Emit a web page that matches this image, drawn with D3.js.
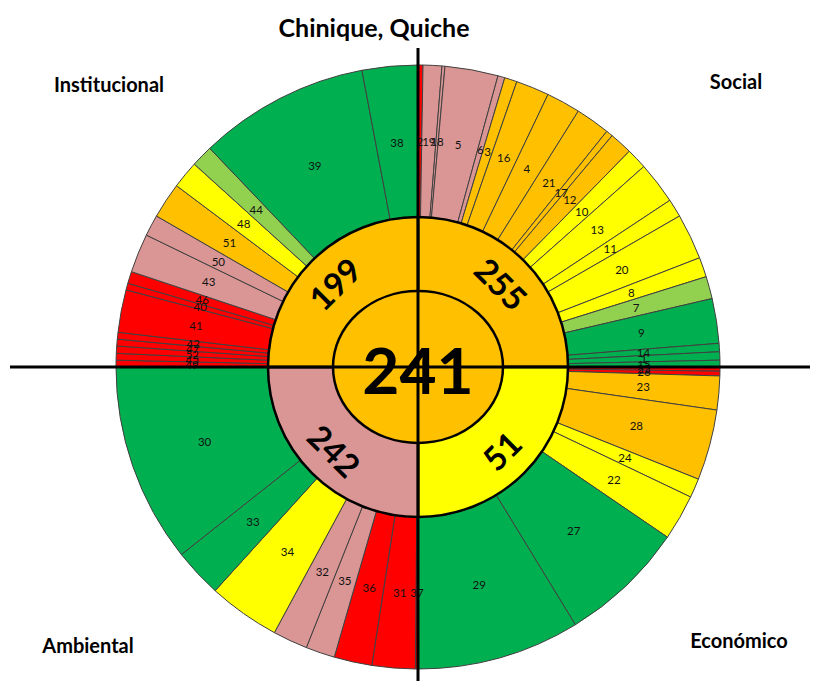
<!DOCTYPE html>
<html>
<head>
<meta charset="utf-8">
<script src="https://cdn.jsdelivr.net/npm/d3@7/dist/d3.min.js"></script>
<style>
  body { margin: 0; background: #fff; }
  text { font-family: Lato, "Open Sans", sans-serif; }
</style>
</head>
<body>
<div id="chart"></div>
<script>
// 1: DATA
const title = "Chinique, Quiche";
const centerValue = 241;

// dimensions, in drawing order (clockwise from 12 o'clock)
const dimNames = ["Social", "Económico", "Ambiental", "Institucional"];
const dimValues = [255, 51, 242, 199];
const dimColors = ["O", "Y", "P", "O"];

// outer ring: indicator ids, angular weight, colour class per dimension
const socialIds = [2, 19, 18, 5, 6, 3, 16, 4, 21, 17, 12, 10, 13, 11, 20, 8, 7, 9, 14, 1, 15];
const socialWeights = [0.95, 3.61, 0.57, 10.23, 1.34, 2.4, 6.4, 6.56, 6.64, 1.3, 4.4, 4.0, 8.1, 3.5, 8.8, 3.8, 4.3, 8.6, 1.6, 1.6, 1.3];
const socialColors = ["R", "P", "P", "P", "P", "O", "O", "O", "O", "O", "O", "Y", "Y", "Y", "Y", "Y", "LG", "G", "G", "G", "G"];

const economicoIds = [25, 26, 23, 28, 24, 22, 27, 29];
const economicoWeights = [0.8, 0.9, 6.5, 13.6, 3.7, 8.8, 24.3, 31.4];
const economicoColors = ["R", "R", "O", "O", "Y", "Y", "G", "G"];

const ambientalIds = [37, 31, 36, 35, 32, 34, 33, 30];
const ambientalWeights = [0.5, 8.3, 7.3, 5.6, 6.7, 13.8, 9.4, 38.4];
const ambientalColors = ["R", "R", "R", "P", "P", "Y", "G", "G"];

const institucionalIds = [49, 45, 52, 47, 42, 41, 40, 46, 43, 50, 51, 48, 44, 39, 38];
const institucionalWeights = [1.3, 1.3, 1.4, 1.3, 1.3, 8.2, 1.3, 2.3, 7.5, 4.1, 6.9, 5.3, 4.2, 32.9, 10.7];
const institucionalColors = ["R", "R", "R", "R", "R", "R", "R", "R", "P", "P", "O", "Y", "LG", "G", "G"];

const palette = { R: "#FF0000", P: "#DA9694", O: "#FFC000", Y: "#FFFF00", LG: "#92D050", G: "#00B050" };

// 2: SETUP
const W = 819, H = 681;
const cx = 418, cy = 367;
const rOuter = 302, rMid = 150, rxCenter = 85, ryCenter = 76;

const svg = d3.select("#chart").append("svg")
    .attr("width", W)
    .attr("height", H);

const g = svg.append("g").attr("transform", `translate(${cx},${cy})`);

const quarter = Math.PI / 2;
const outerSets = [
    { ids: socialIds, w: socialWeights, c: socialColors },
    { ids: economicoIds, w: economicoWeights, c: economicoColors },
    { ids: ambientalIds, w: ambientalWeights, c: ambientalColors },
    { ids: institucionalIds, w: institucionalWeights, c: institucionalColors }
];

const outerArc = d3.arc().innerRadius(rMid).outerRadius(rOuter);

// 3: OUTER RING
outerSets.forEach((set, qi) => {
    const rows = set.ids.map((id, i) => ({ id, w: set.w[i], c: set.c[i] }));
    const pie = d3.pie()
        .sort(null)
        .value(d => d.w)
        .startAngle(qi * quarter)
        .endAngle((qi + 1) * quarter);
    const arcs = pie(rows);

    g.append("g").selectAll("path")
        .data(arcs)
        .enter()
        .append("path")
        .attr("d", outerArc)
        .attr("fill", d => palette[d.data.c])
        .attr("stroke", "#404040")
        .attr("stroke-width", 1);

    g.append("g").selectAll("text")
        .data(arcs)
        .enter()
        .append("text")
        .attr("x", d => outerArc.centroid(d)[0])
        .attr("y", d => outerArc.centroid(d)[1])
        .attr("text-anchor", "middle")
        .attr("dominant-baseline", "central")
        .attr("font-size", 11.5)
        .attr("fill", "#111")
        .text(d => d.data.id);
});

// 4: MIDDLE RING (dimension totals)
const midArc = d3.arc().innerRadius(0).outerRadius(rMid);
g.append("g").selectAll("path")
    .data(dimValues)
    .enter()
    .append("path")
    .attr("d", (d, i) => midArc({ startAngle: i * quarter, endAngle: (i + 1) * quarter }))
    .attr("fill", (d, i) => palette[dimColors[i]])
    .attr("stroke", "#000")
    .attr("stroke-width", 2.5);

// cross lines
svg.append("line")
    .attr("x1", 10).attr("x2", 810)
    .attr("y1", cy).attr("y2", cy)
    .attr("stroke", "#000").attr("stroke-width", 3);
svg.append("line")
    .attr("x1", cx).attr("x2", cx)
    .attr("y1", 48).attr("y2", H)
    .attr("stroke", "#000").attr("stroke-width", 3);

// dimension values, written along the ring
const labelR = 118;
g.append("g").selectAll("text")
    .data(dimValues)
    .enter()
    .append("text")
    .attr("transform", (d, i) => {
        const a = (i * 90 + 45);
        const rad = a * Math.PI / 180;
        const x = labelR * Math.sin(rad), y = -labelR * Math.cos(rad);
        const rot = (a > 90 && a < 270) ? a - 180 : a;
        return `translate(${x},${y}) rotate(${rot})`;
    })
    .attr("text-anchor", "middle")
    .attr("dominant-baseline", "central")
    .attr("font-size", 33)
    .attr("font-weight", "bold")
    .text(d => d);

// 5: CENTRE
g.append("ellipse")
    .attr("rx", rxCenter).attr("ry", ryCenter)
    .attr("fill", palette.O)
    .attr("stroke", "#000")
    .attr("stroke-width", 2.5);

g.append("text")
    .attr("text-anchor", "middle")
    .attr("dominant-baseline", "central")
    .attr("y", 2)
    .attr("font-size", 64)
    .attr("font-weight", "bold")
    .text(centerValue);

// 6: TITLE AND DIMENSION NAMES
svg.append("text")
    .attr("x", 374).attr("y", 37)
    .attr("text-anchor", "middle")
    .attr("font-size", 25)
    .attr("font-weight", "bold")
    .text(title);

const namePos = [[736, 89], [739, 648], [88, 653], [109, 92]];
svg.append("g").selectAll("text")
    .data(dimNames)
    .enter()
    .append("text")
    .attr("x", (d, i) => namePos[i][0])
    .attr("y", (d, i) => namePos[i][1])
    .attr("text-anchor", "middle")
    .attr("font-size", 20)
    .attr("font-weight", "bold")
    .text(d => d);
</script>
</body>
</html>
